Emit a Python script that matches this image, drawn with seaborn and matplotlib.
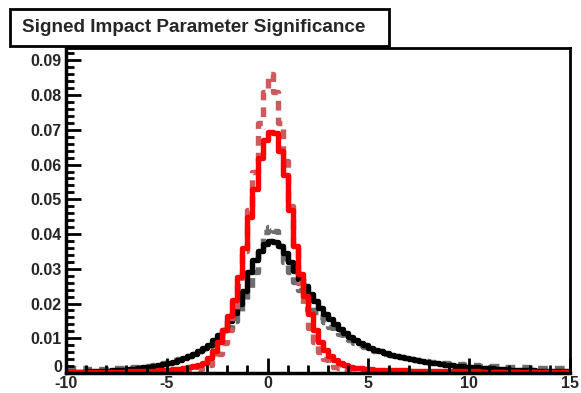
import numpy as np
import matplotlib
matplotlib.use("Agg")
import matplotlib.pyplot as plt
import matplotlib.transforms as mtransforms
import seaborn as sns
import pandas as pd
from matplotlib.ticker import MultipleLocator
from matplotlib.patches import Rectangle

# bin range of the histograms (100 bins of 0.25)
x_lo, x_hi, n_bins = -10, 15, 100

# black solid
black_solid = [
    0.0003, 0.0003, 0.0004, 0.0004, 0.0005, 0.0005, 0.0006, 0.0006,
    0.0007, 0.0008, 0.0009, 0.0010, 0.0011, 0.0012, 0.0014, 0.0016,
    0.0018, 0.0020, 0.0023, 0.0026,
    0.0029, 0.0033, 0.0037, 0.0042,
    0.0048, 0.0055, 0.0063, 0.0072,
    0.0082, 0.0094, 0.0108, 0.0124,
    0.0150, 0.0172, 0.0200, 0.0235,
    0.0290, 0.0325, 0.0352, 0.0372,
    0.0380, 0.0378, 0.0365, 0.0345,
    0.0320, 0.0295, 0.0272, 0.0250,
    0.0228, 0.0207, 0.0188, 0.0170,
    0.0155, 0.0140, 0.0127, 0.0115,
    0.0104, 0.0095, 0.0087, 0.0080,
    0.0073, 0.0067, 0.0062, 0.0057,
    0.0053, 0.0049, 0.0045, 0.0042,
    0.0039, 0.0036, 0.0034, 0.0032,
    0.0030, 0.0028, 0.0026, 0.0024,
    0.0022, 0.0021, 0.0019, 0.0018,
    0.0017, 0.0016, 0.0015, 0.0014,
    0.0013, 0.0012, 0.0011, 0.0011,
    0.0010, 0.0009, 0.0009, 0.0008,
    0.0008, 0.0007, 0.0007, 0.0006,
    0.0006, 0.0006, 0.0005, 0.0005,
]

# grey dashed
grey_dashed = [
    0.0014, 0.0014, 0.0013, 0.0013, 0.0012, 0.0012, 0.0012, 0.0012,
    0.0012, 0.0013, 0.0013, 0.0014, 0.0015, 0.0016, 0.0018, 0.0019,
    0.0021, 0.0024, 0.0027, 0.0030,
    0.0033, 0.0036, 0.0040, 0.0045,
    0.0050, 0.0056, 0.0062, 0.0070,
    0.0078, 0.0088, 0.0100, 0.0114,
    0.0130, 0.0150, 0.0175, 0.0205,
    0.0240, 0.0290, 0.0350, 0.0405,
    0.0420, 0.0410, 0.0365, 0.0320,
    0.0290, 0.0262, 0.0238, 0.0215,
    0.0195, 0.0177, 0.0160, 0.0146,
    0.0133, 0.0121, 0.0111, 0.0102,
    0.0094, 0.0087, 0.0080, 0.0074,
    0.0068, 0.0063, 0.0059, 0.0055,
    0.0051, 0.0048, 0.0045, 0.0042,
    0.0040, 0.0038, 0.0036, 0.0034,
    0.0032, 0.0031, 0.0030, 0.0029,
    0.0027, 0.0026, 0.0025, 0.0024,
    0.0023, 0.0022, 0.0021, 0.0021,
    0.0020, 0.0019, 0.0019, 0.0018,
    0.0017, 0.0017, 0.0016, 0.0016,
    0.0015, 0.0015, 0.0014, 0.0014,
    0.0013, 0.0013, 0.0013, 0.0012,
]

# red solid
red_solid = [
    0.0002, 0.0002, 0.0002, 0.0002, 0.0003, 0.0003, 0.0003, 0.0003,
    0.0003, 0.0004, 0.0004, 0.0004, 0.0005, 0.0005, 0.0006, 0.0006,
    0.0007, 0.0007, 0.0008, 0.0009,
    0.0010, 0.0011, 0.0012, 0.0014,
    0.0016, 0.0019, 0.0023, 0.0030,
    0.0042, 0.0062, 0.0088, 0.0125,
    0.0165, 0.0210, 0.0275, 0.0360,
    0.0450, 0.0530, 0.0620, 0.0670,
    0.0695, 0.0690, 0.0640, 0.0570,
    0.0470, 0.0365, 0.0285, 0.0222,
    0.0170, 0.0125, 0.0090, 0.0065,
    0.0048, 0.0036, 0.0028, 0.0022,
    0.0018, 0.0015, 0.0013, 0.0012,
    0.0011, 0.0010, 0.0010, 0.0009,
    0.0009, 0.0008, 0.0008, 0.0008,
    0.0007, 0.0007, 0.0007, 0.0006,
    0.0006, 0.0006, 0.0006, 0.0006,
    0.0005, 0.0005, 0.0005, 0.0005,
    0.0005, 0.0005, 0.0004, 0.0004,
    0.0004, 0.0004, 0.0004, 0.0004,
    0.0004, 0.0003, 0.0003, 0.0003,
    0.0003, 0.0003, 0.0003, 0.0003,
    0.0003, 0.0003, 0.0003, 0.0003,
]

# light red dashed
red_dashed = [
    0.0001, 0.0001, 0.0001, 0.0001, 0.0001, 0.0001, 0.0001, 0.0001,
    0.0001, 0.0001, 0.0001, 0.0001, 0.0001, 0.0002, 0.0002, 0.0002,
    0.0002, 0.0002, 0.0002, 0.0003,
    0.0003, 0.0003, 0.0004, 0.0005,
    0.0006, 0.0008, 0.0011, 0.0016,
    0.0024, 0.0036, 0.0055, 0.0085,
    0.0125, 0.0180, 0.0250, 0.0350,
    0.0470, 0.0580, 0.0720, 0.0810,
    0.0860, 0.0810, 0.0720, 0.0610,
    0.0480, 0.0360, 0.0260, 0.0185,
    0.0130, 0.0090, 0.0060, 0.0040,
    0.0026, 0.0018, 0.0013, 0.0010,
    0.0008, 0.0007, 0.0006, 0.0005,
    0.0005, 0.0004, 0.0004, 0.0004,
    0.0004, 0.0004, 0.0003, 0.0003,
    0.0003, 0.0003, 0.0003, 0.0003,
    0.0003, 0.0003, 0.0003, 0.0003,
    0.0003, 0.0003, 0.0002, 0.0002,
    0.0002, 0.0002, 0.0002, 0.0002,
    0.0002, 0.0002, 0.0002, 0.0002,
    0.0002, 0.0002, 0.0002, 0.0002,
    0.0002, 0.0002, 0.0002, 0.0002,
    0.0002, 0.0002, 0.0002, 0.0002,
]

title = "Signed Impact Parameter Significance"
x_ticks = [-10, -5, 0, 5, 10, 15]
y_ticks = [0, 0.01, 0.02, 0.03, 0.04, 0.05, 0.06, 0.07, 0.08, 0.09]
y_labels = ["0", "0.01", "0.02", "0.03", "0.04", "0.05", "0.06", "0.07", "0.08", "0.09"]

edges = np.linspace(x_lo, x_hi, n_bins + 1)
centers = (edges[:-1] + edges[1:]) / 2
df = pd.DataFrame({"x": centers, "black": black_solid, "grey": grey_dashed,
                   "red": red_solid, "redd": red_dashed})

sns.set_style("white")
plt.rcParams["font.family"] = ["Liberation Sans", "DejaVu Sans"]

fig = plt.figure(figsize=(5.81, 3.93), dpi=100)
ax = fig.add_axes([0.1136, 0.0509, 0.981 - 0.1136, 0.879 - 0.0509])

lw = 3.9
dash = (0, (1.8, 1.3))
hist_kw = dict(x="x", bins=n_bins, binrange=(x_lo, x_hi), element="step", fill=False, ax=ax)
sns.histplot(data=df, weights="grey", color="#6e6e6e", linewidth=lw, linestyle=dash, **hist_kw)
sns.histplot(data=df, weights="black", color="black", linewidth=lw, **hist_kw)
sns.histplot(data=df, weights="redd", color="#cc5c5c", linewidth=lw, linestyle=dash, **hist_kw)
sns.histplot(data=df, weights="red", color="#ff0000", linewidth=lw, **hist_kw)

ax.set_xlim(x_lo, x_hi)
ax.set_ylim(0, 0.0937)
ax.set_xlabel("")
ax.set_ylabel("")
ax.set_axisbelow(False)

ax.set_xticks(x_ticks)
ax.set_xticklabels([str(t) for t in x_ticks])
ax.set_yticks(y_ticks)
ax.set_yticklabels(y_labels)
ax.xaxis.set_minor_locator(MultipleLocator(1))
ax.yaxis.set_minor_locator(MultipleLocator(0.002))

ax.tick_params(which="both", direction="in", bottom=True, left=True, top=False, right=False,
               width=2, color="black")
ax.tick_params(which="major", length=11, labelsize=11.5)
ax.tick_params(which="minor", length=6)
ax.tick_params(axis="x", which="major", pad=2)
ax.tick_params(axis="y", which="major", pad=3)
for lab in ax.get_xticklabels() + ax.get_yticklabels():
    lab.set_fontweight("bold")

# lift the "0" on the y axis a little so it clears the "-10" below it
zero_lab = ax.get_yticklabels()[0]
zero_lab.set_transform(zero_lab.get_transform() +
                       mtransforms.ScaledTranslation(0, 5 / 72, fig.dpi_scale_trans))

for s in ax.spines.values():
    s.set_color("black")
    s.set_linewidth(2)
ax.spines["left"].set_linewidth(2.5)
ax.spines["bottom"].set_linewidth(2.5)

# title box in the upper left, drawn over the frame
box = Rectangle((0.0172, 0.883), 0.6523, 0.094, transform=fig.transFigure,
                facecolor="white", edgecolor="black", linewidth=2, zorder=10)
fig.patches.append(box)
fig.text(0.0379, 0.930, title, fontsize=13.6, fontweight="bold",
         ha="left", va="center", zorder=11)

fig.savefig("out.png", dpi=100)
